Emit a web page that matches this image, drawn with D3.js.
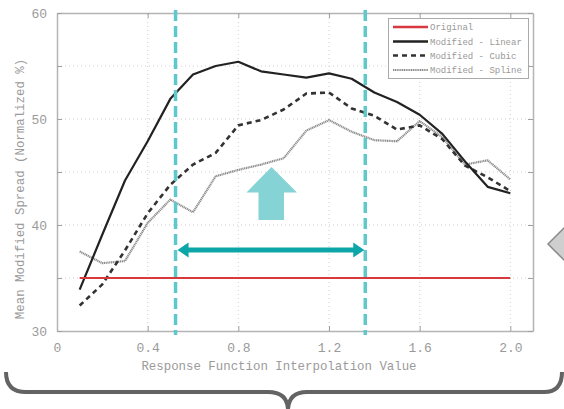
<!DOCTYPE html>
<html><head><meta charset="utf-8">
<script src="https://cdn.jsdelivr.net/npm/d3@7"></script>
<style>html,body{margin:0;padding:0;background:#fff;}svg{display:block;}</style>
</head><body>
<svg id="chart" width="564" height="409"></svg>
<script>
const xValues = [0.1,0.2,0.3,0.4,0.5,0.6,0.7,0.8,0.9,1.0,1.1,1.2,1.3,1.4,1.5,1.6,1.7,1.8,1.9,2.0];
const original = [35,35,35,35,35,35,35,35,35,35,35,35,35,35,35,35,35,35,35,35];
const linear = [33.9,39.1,44.2,47.9,51.9,54.2,55.0,55.4,54.5,54.2,53.9,54.3,53.8,52.5,51.6,50.4,48.6,46.0,43.6,43.0];
const cubic  = [32.4,34.4,37.6,41.1,43.8,45.7,46.8,49.4,49.9,50.9,52.4,52.5,51.0,50.3,49.0,49.4,48.1,45.6,44.5,43.2];
const spline = [37.5,36.4,36.6,40.2,42.4,41.2,44.6,45.2,45.7,46.3,48.9,49.9,48.8,48.0,47.9,49.8,48.3,45.7,46.1,44.3];
const xTicks = [0,0.4,0.8,1.2,1.6,2.0];
const xTickLabels = ["0","0.4","0.8","1.2","1.6","2.0"];
const yTicks = [30,35,40,45,50,55,60];
const yTickLabels = ["30","","40","","50","","60"];
const seriesNames = ["Original","Modified - Linear","Modified - Cubic","Modified - Spline"];
const markerX = [0.523, 1.36];

const svg = d3.select("#chart");
const x = d3.scaleLinear().domain([0,2.1]).range([57,533]);
const y = d3.scaleLinear().domain([30,60]).range([331,13]);
const font = "'Liberation Mono','DejaVu Sans Mono',monospace";
const textCol = "#9a9a9a";
const frameCol = "#b4b4b4";

// grid
const grid = svg.append("g");
xTicks.filter(v=>v>0).forEach(v=>{
  grid.append("line").attr("x1",x(v)).attr("x2",x(v)).attr("y1",y(30)).attr("y2",y(60))
    .attr("stroke","#d0d0d0").attr("stroke-width",1).attr("stroke-dasharray","1,3");
});
yTicks.filter(v=>v>30 && v<60).forEach(v=>{
  grid.append("line").attr("x1",x(0)).attr("x2",x(2.1)).attr("y1",y(v)).attr("y2",y(v))
    .attr("stroke","#d0d0d0").attr("stroke-width",1).attr("stroke-dasharray","1,3");
});

// axes
const xb = d3.axisBottom(x).tickValues(xTicks).tickFormat((d,i)=>xTickLabels[i]).tickSizeInner(-5).tickSizeOuter(0).tickPadding(12);
const xt = d3.axisTop(x).tickValues(xTicks).tickFormat("").tickSizeInner(-5).tickSizeOuter(0);
const yl = d3.axisLeft(y).tickValues(yTicks).tickFormat((d,i)=>yTickLabels[i]).tickSizeInner(-5).tickSizeOuter(0).tickPadding(10);
const yr = d3.axisRight(y).tickValues(yTicks).tickFormat("").tickSizeInner(-5).tickSizeOuter(0);
function styleAxis(g){
  g.select(".domain").attr("stroke",frameCol).attr("stroke-width",1.5);
  g.selectAll(".tick line").attr("stroke","#a0a0a0").attr("stroke-width",1);
  g.selectAll(".tick text").attr("fill",textCol).style("font-family",font).style("font-size","13px");
}
svg.append("g").attr("transform",`translate(0,${y(30)})`).call(xb).call(styleAxis);
svg.append("g").attr("transform",`translate(0,${y(60)})`).call(xt).call(styleAxis);
svg.append("g").attr("transform",`translate(${x(0)},0)`).call(yl).call(styleAxis);
svg.append("g").attr("transform",`translate(${x(2.1)},0)`).call(yr).call(styleAxis);

// axis labels
svg.append("text").attr("x",279).attr("y",370).attr("text-anchor","middle")
  .attr("fill",textCol).style("font-family",font).style("font-size","12.4px")
  .text("Response Function Interpolation Value");
svg.append("text").attr("transform","translate(24,189) rotate(-90)").attr("text-anchor","middle")
  .attr("fill",textCol).style("font-family",font).style("font-size","12.4px")
  .text("Mean Modified Spread (Normalized %)");

// series
const line = d3.line().x((d,i)=>x(xValues[i])).y(d=>y(d));
const styles = [
  {data:original, stroke:"#d8393f", width:2.2, dash:null},
  {data:linear, stroke:"#222", width:2.2, dash:null},
  {data:cubic, stroke:"#333", width:2.6, dash:"5,4"},
  {data:spline, stroke:"#8c8c8c", width:2.2, dash:"1.2,0.6"}
];
[3,2,1,0].forEach(k=>{
  const s = styles[k];
  svg.append("path").datum(s.data).attr("d",line).attr("fill","none")
    .attr("stroke",s.stroke).attr("stroke-width",s.width)
    .attr("stroke-dasharray",s.dash).attr("stroke-linejoin","round");
});

// legend
const lg = svg.append("g");
lg.append("rect").attr("x",388.5).attr("y",18.5).attr("width",140).attr("height",60)
  .attr("fill","#fff").attr("stroke","#aaa").attr("stroke-width",1);
const rowsY = [27,41.5,55.5,70];
seriesNames.forEach((n,i)=>{
  const s = styles[i];
  lg.append("line").attr("x1",393).attr("x2",428).attr("y1",rowsY[i]).attr("y2",rowsY[i])
    .attr("stroke",s.stroke).attr("stroke-width",i===3?2:2.6).attr("stroke-dasharray",s.dash);
  lg.append("text").attr("x",430).attr("y",rowsY[i]+3).attr("fill","#999")
    .style("font-family",font).style("font-size","9px").text(n);
});

// annotations: dashed vertical markers
markerX.forEach(v=>{
  svg.append("line").attr("x1",x(v)).attr("x2",x(v)).attr("y1",10).attr("y2",335)
    .attr("stroke","#5ec8cc").attr("stroke-width",3.5).attr("stroke-dasharray","11,5");
});

// double headed arrow
const ax1 = x(markerX[0])+2, ax2 = x(markerX[1])-1, ay = 250;
const arrCol = "#0ca6a9";
svg.append("rect").attr("x",ax1+9).attr("y",ay-2.5).attr("width",ax2-ax1-18).attr("height",5).attr("fill",arrCol);
svg.append("path").attr("d",`M${ax1},${ay} L${ax1+11},${ay-7.5} L${ax1+11},${ay+7.5} Z`).attr("fill",arrCol);
svg.append("path").attr("d",`M${ax2},${ay} L${ax2-11},${ay-7.5} L${ax2-11},${ay+7.5} Z`).attr("fill",arrCol);

// big up arrow
svg.append("path").attr("d","M271.5,167 L297,192.5 L284,192.5 L284,220 L258.5,220 L258.5,192.5 L246.5,192.5 Z")
  .attr("fill","#86d3d6");

// right gray triangle
svg.append("path").attr("d","M548,244 L575,217 L575,271 Z").attr("fill","#cfcfcf").attr("stroke","#8a8a8a").attr("stroke-width",1.5);

// curly brace
svg.append("path")
  .attr("d","M6,372 Q6,392 26,392 L268,392 Q287,392 288,409 Q289,392 307,392 L544,392 Q562,392 562,372")
  .attr("fill","none").attr("stroke","#636363").attr("stroke-width",4);
</script>
</body></html>
